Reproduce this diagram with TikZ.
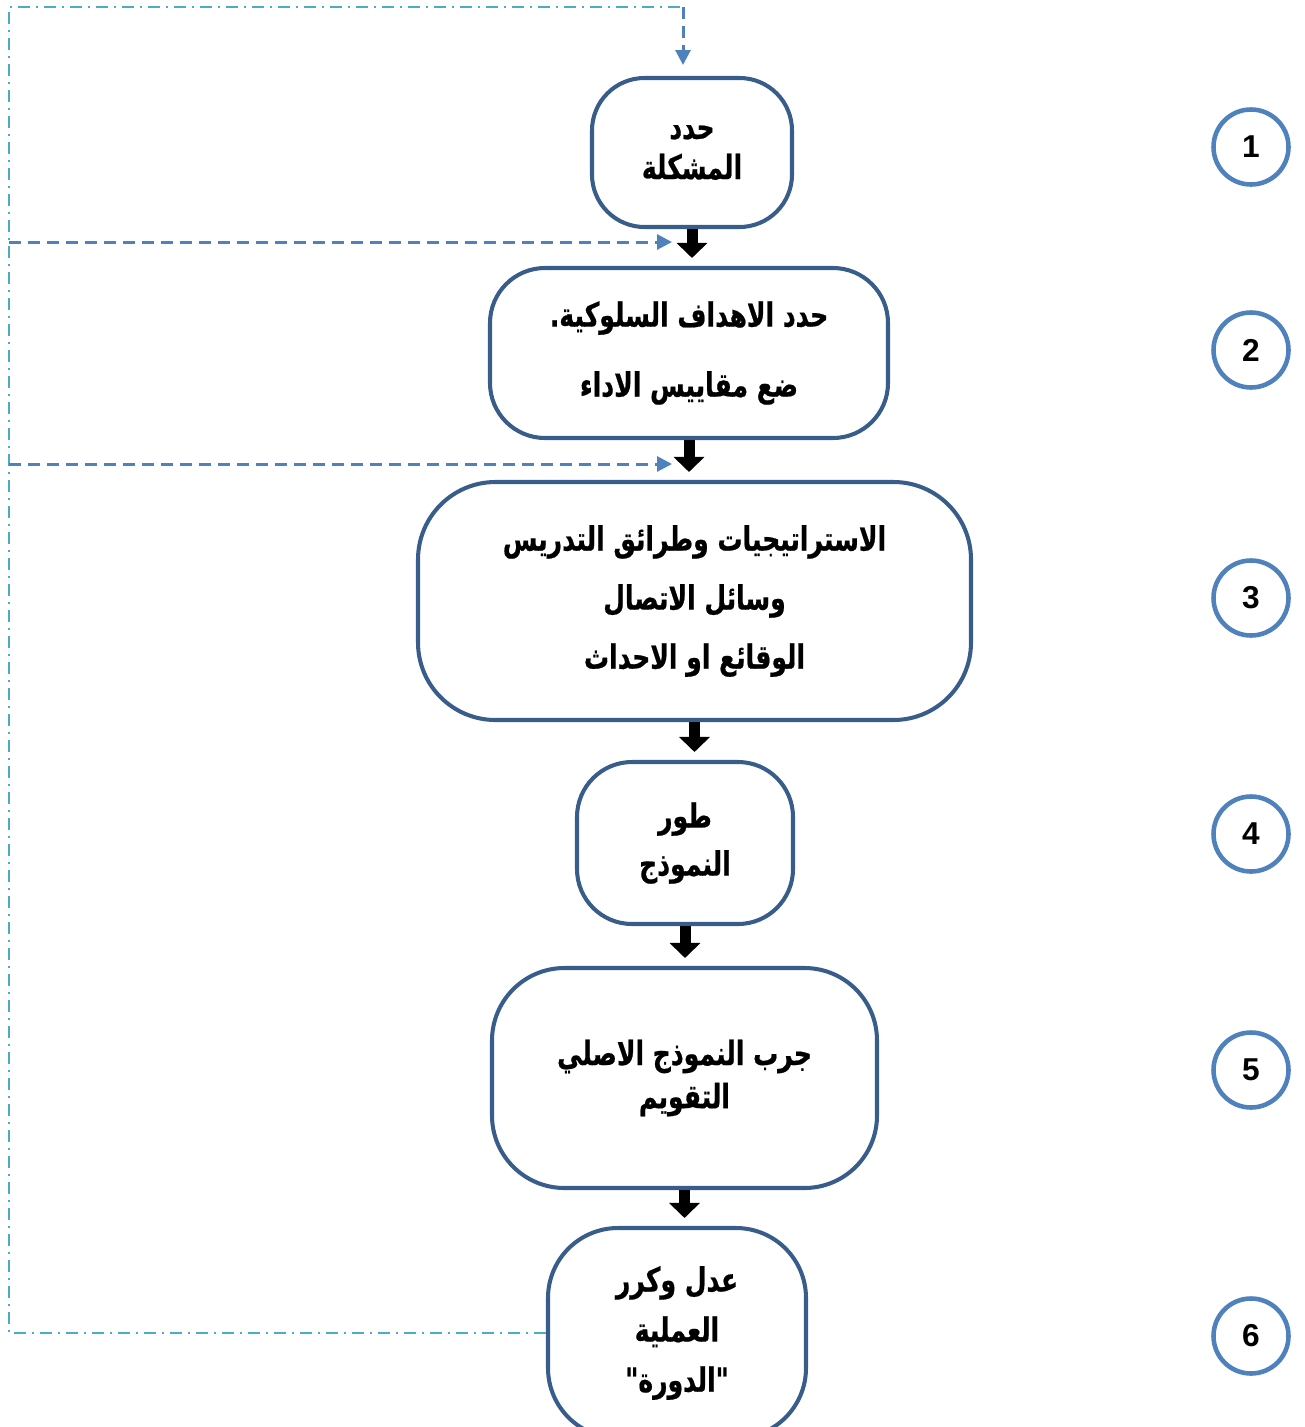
\documentclass[tikz,border=0pt]{standalone}
\usepackage{fontspec}
\setmainfont{Liberation Sans}
\newfontfamily\arabicfont[Script=Arabic,FakeStretch=0.75,FakeBold=0.6]{DejaVu Sans}
\TeXXeTstate=1
\usetikzlibrary{arrows.meta}
\definecolor{boxblue}{HTML}{385D8A}
\definecolor{ringblue}{HTML}{4F81BD}
\definecolor{loopcyan}{HTML}{4BACC6}
\newcommand{\rtl}[1]{\beginR #1\endR}

\begin{document}
\begin{tikzpicture}[
  blockbox/.style={draw=boxblue, line width=2.3pt, align=center, inner sep=0pt,
    font=\arabicfont\bfseries\fontsize{19}{#1}\selectfont},
  numcirc/.style={circle, draw=ringblue, line width=2.6pt, minimum size=1.5cm, inner sep=0pt,
    font=\bfseries\fontsize{18}{20}\selectfont},
  flowarr/.style={line width=0.22cm, -{Triangle[width=0.6cm,length=0.3cm]}, shorten >=0.16cm},
  feedarr/.style={ringblue, line width=1.7pt, dash pattern=on 0.24cm off 0.14cm, -{Triangle[width=0.3cm,length=0.3cm]}},
  loopline/.style={loopcyan, line width=1pt, dash pattern=on 0.24cm off 0.12cm on 0.04cm off 0.12cm}
]
\useasboundingbox (0,0) rectangle (26.08,-28.54);
\clip (0,0) rectangle (26.08,-28.54);

% steps
\node[blockbox=22.8pt, rounded corners=1.05cm, minimum width=4cm, minimum height=2.98cm] (b1) at (13.84,-3.05)
  {\rtl{حدد}\\\rtl{المشكلة}};
\node[blockbox=39.8pt, rounded corners=1.1cm, minimum width=7.96cm, minimum height=3.4cm] (b2) at (13.78,-7.06)
  {\rtl{حدد الاهداف السلوكية.}\\\rtl{ضع مقاييس الاداء}};
\node[blockbox=33.6pt, rounded corners=1.55cm, minimum width=11.06cm, minimum height=4.76cm] (b3) at (13.89,-12.02)
  {\rtl{الاستراتيجيات وطرائق التدريس}\\\rtl{وسائل الاتصال}\\\rtl{الوقائع او الاحداث}};
\node[blockbox=27.3pt, rounded corners=1.1cm, minimum width=4.32cm, minimum height=3.24cm] (b4) at (13.7,-16.86)
  {\rtl{طور}\\\rtl{النموذج}};
\node[blockbox=24.5pt, rounded corners=1.45cm, minimum width=7.7cm, minimum height=4.4cm] (b5) at (13.69,-21.56)
  {\rtl{جرب النموذج الاصلي}\\\rtl{التقويم}};
\node[blockbox=28.5pt, rounded corners=1.4cm, minimum width=5.16cm, minimum height=4.2cm] (b6) at (13.54,-26.66)
  {\rtl{عدل وكرر}\\\rtl{العملية}\\\rtl{"الدورة"}};

% numbers
\node[numcirc] (n1) at (25.02,-2.94) {1};
\node[numcirc] (n2) at (25.02,-7.0) {2};
\node[numcirc] (n3) at (25.02,-11.96) {3};
\node[numcirc] (n4) at (25.02,-16.68) {4};
\node[numcirc] (n5) at (25.02,-21.4) {5};
\node[numcirc] (n6) at (25.02,-26.72) {6};

% flow
\draw[flowarr] (b1.south) -- (b1.south |- b2.north);
\draw[flowarr] (b2.south) -- (b2.south |- b3.north);
\draw[flowarr] (b3.south) -- (b3.south |- b4.north);
\draw[flowarr] (b4.south) -- (b4.south |- b5.north);
\draw[flowarr] (b5.south) -- (b5.south |- b6.north);

% feedback
\coordinate (lx) at (0.18,-0.14);
\coordinate (topc) at (13.66,-0.14);
\coordinate (b1in) at (13.66,-1.3);
\coordinate (fa1) at (0.18,-4.84);
\coordinate (fb1) at (13.44,-4.84);
\coordinate (fa2) at (0.18,-9.28);
\coordinate (fb2) at (13.44,-9.28);
\draw[loopline] (b6.west) -| (lx) -- (topc);
\draw[feedarr] (topc) -- (b1in);
\draw[feedarr] (fa1) -- (fb1);
\draw[feedarr] (fa2) -- (fb2);

\end{tikzpicture}
\end{document}
